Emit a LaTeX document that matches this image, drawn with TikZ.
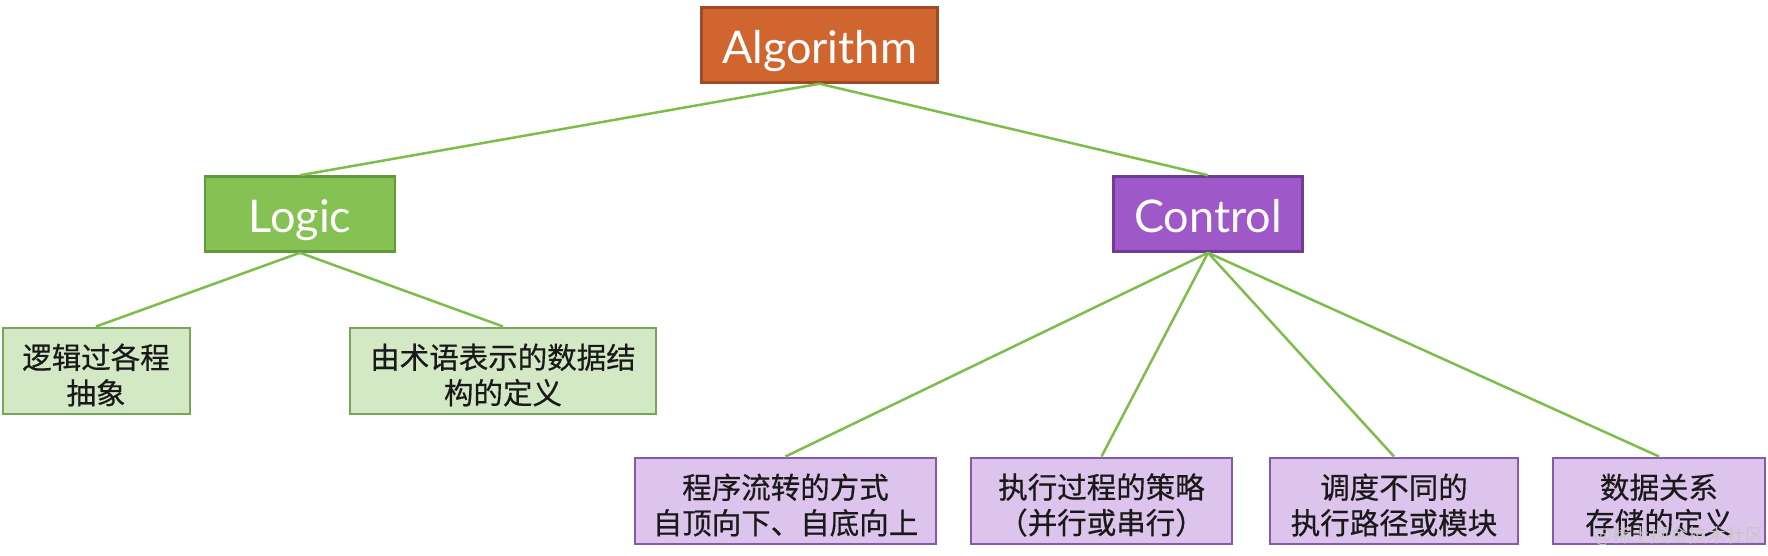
\documentclass[tikz,border=0pt]{standalone}
\usepackage{fontspec}
\setmainfont{Lato}
\newfontfamily\cjk[FakeBold=0.5]{Noto Sans CJK SC}
\newfontfamily\cjkwm{Noto Sans CJK SC}
\definecolor{algfill}{HTML}{D0652F}
\definecolor{algdraw}{HTML}{A04A25}
\definecolor{logfill}{HTML}{86C154}
\definecolor{logdraw}{HTML}{62993A}
\definecolor{ctlfill}{HTML}{9E58C8}
\definecolor{ctldraw}{HTML}{703B96}
\definecolor{gleaf}{HTML}{D3E8C4}
\definecolor{gleafd}{HTML}{78A558}
\definecolor{pleaf}{HTML}{DCC4EC}
\definecolor{pleafd}{HTML}{8759AA}
\definecolor{link}{HTML}{7DBE4B}
\begin{document}
\begin{tikzpicture}[x=1pt,y=-1pt,
  topbox/.style={line width=2.5pt, text=white, inner sep=0pt, minimum height=75pt,
    text height=36pt, text depth=0pt, font=\fontsize{45}{50}\selectfont},
  leafbox/.style={line width=2pt, inner sep=0pt, minimum height=86pt},
  leaftext/.style={inner sep=0pt, align=center, text=black!90,
    font=\cjk\fontsize{29.5}{35.5}\selectfont},
  gbox/.style={leafbox, fill=gleaf, draw=gleafd},
  pbox/.style={leafbox, fill=pleaf, draw=pleafd},
  conn/.style={draw=link, line width=2.5pt}]
\useasboundingbox (0,0) rectangle (1768,555);
\fill[white] (0,0) rectangle (1768,555);
\node[topbox, fill=algfill, draw=algdraw, minimum width=236pt] (alg) at (819.5,45) {Algorithm};
\node[topbox, fill=logfill, draw=logdraw, minimum width=190pt] (logic) at (300,214) {Logic};
\node[topbox, fill=ctlfill, draw=ctldraw, minimum width=189pt] (ctl) at (1208,214) {Control};

\node[gbox, minimum width=187pt] (l1) at (96,370.5) {};
\node[gbox, minimum width=306pt] (l2) at (503,370.5) {};
\node[pbox, minimum width=301pt] (c1) at (785.5,500.5) {};
\node[pbox, minimum width=261pt] (c2) at (1101.5,500.5) {};
\node[pbox, minimum width=248pt] (c3) at (1394,500.5) {};
\node[pbox, minimum width=212pt] (c4) at (1659,500.5) {};

\node[leaftext] (t1) at ([yshift=-4.5pt]l1.center) {逻辑过各程\\抽象};
\node[leaftext] (t2) at ([yshift=-4.5pt]l2.center) {由术语表示的数据结\\构的定义};
\node[leaftext] (t3) at ([yshift=-4.5pt]c1.center) {程序流转的方式\\自顶向下、自底向上};
\node[leaftext] (t4) at ([yshift=-4.5pt]c2.center) {执行过程的策略\\（并行或串行）};
\node[leaftext] (t5) at ([yshift=-4.5pt]c3.center) {调度不同的\\执行路径或模块};
\node[leaftext] (t6) at ([yshift=-4.5pt]c4.center) {数据关系\\存储的定义};

\draw[conn] (alg.south) -- (logic.north);
\draw[conn] (alg.south) -- (ctl.north);
\draw[conn] (logic.south) -- (l1.north);
\draw[conn] (logic.south) -- (l2.north);
\draw[conn] (ctl.south) -- (c1.north);
\draw[conn] (ctl.south) -- (c2.north);
\draw[conn] (ctl.south) -- (c3.north);
\draw[conn] (ctl.south) -- (c4.north);

\node[text=black!22, font=\cjkwm\fontsize{19}{22}\selectfont, anchor=east, inner sep=0pt] (wm) at (1765,536) {@稀土掘金技术社区};
\end{tikzpicture}
\end{document}
